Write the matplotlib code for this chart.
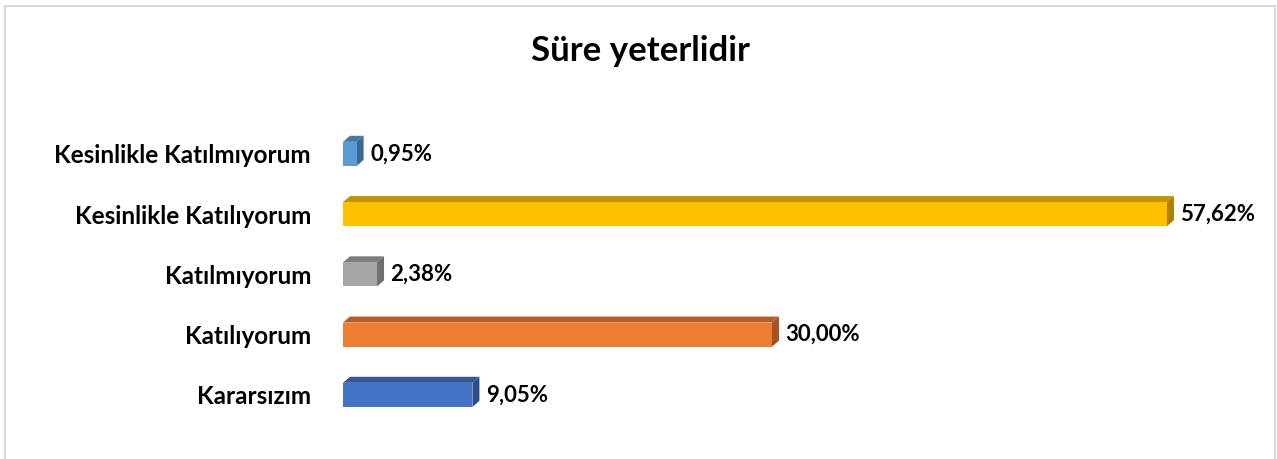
import matplotlib
matplotlib.use("Agg")
import matplotlib.pyplot as plt
from matplotlib.patches import Polygon
from matplotlib.lines import Line2D

# data (bottom to top)
categories = ['Kararsızım', 'Katılıyorum', 'Katılmıyorum',
              'Kesinlikle Katılıyorum', 'Kesinlikle Katılmıyorum']
values = [9.05, 30.00, 2.38, 57.62, 0.95]
labels = ['9,05%', '30,00%', '2,38%', '57,62%', '0,95%']
front_colors = ['#4472C4', '#ED7D31', '#A5A5A5', '#FFC000', '#5B9BD5']
top_colors = ['#34569A', '#B65F25', '#7E7E7E', '#C49300', '#4577A6']
side_colors = ['#2D4B86', '#A25421', '#6F6F6F', '#AD8200', '#3C6893']

plt.rcParams['font.family'] = ['Lato', 'DejaVu Sans']

fig = plt.figure(figsize=(12.77, 4.59), dpi=100)
W, H = 1277, 459
ax = fig.add_axes([343 / W, 1 - 425 / H, (1250 - 343) / W, 301.25 / H])
px_x = 14.3
xmax = (1250 - 343) / px_x
ax.set_xlim(0, xmax)
ax.set_ylim(-0.5, 4.5)

bh = 0.4
dx = 7 / px_x
dy = 0.1

for i, v in enumerate(values):
    y0 = i - bh / 2
    y1 = i + bh / 2
    ax.barh(i, v, height=bh, color=front_colors[i], zorder=3)
    top = Polygon([(0, y1), (v, y1), (v + dx, y1 + dy), (dx, y1 + dy)],
                  closed=True, facecolor=top_colors[i], edgecolor='none', zorder=2)
    side = Polygon([(v, y0), (v + dx, y0 + dy), (v + dx, y1 + dy), (v, y1)],
                   closed=True, facecolor=side_colors[i], edgecolor='none', zorder=2)
    ax.add_patch(top)
    ax.add_patch(side)
    ax.text(v + dx + 0.45, i, labels[i], va='center', ha='left',
            fontsize=16, fontweight='bold', color='black')

ax.set_yticks(range(len(categories)))
ax.set_yticklabels(categories, fontsize=17.5, fontweight='bold')
ax.tick_params(axis='y', length=0, pad=23)
ax.set_xticks([])
for s in ax.spines.values():
    s.set_visible(False)

fig.text(640 / W, 1 - 51 / H, 'Süre yeterlidir', ha='center', va='center',
         fontsize=25, fontweight='bold')

# chart border
bc = '#D9D9D9'
fig.add_artist(Line2D([5 / W, 5 / W], [0, 1 - 6 / H], color=bc, lw=1.5))
fig.add_artist(Line2D([5 / W, 1275 / W], [1 - 6 / H, 1 - 6 / H], color=bc, lw=1.5))
fig.add_artist(Line2D([1275 / W, 1275 / W], [0, 1 - 6 / H], color=bc, lw=1.5))

fig.savefig('out.png', dpi=100)
